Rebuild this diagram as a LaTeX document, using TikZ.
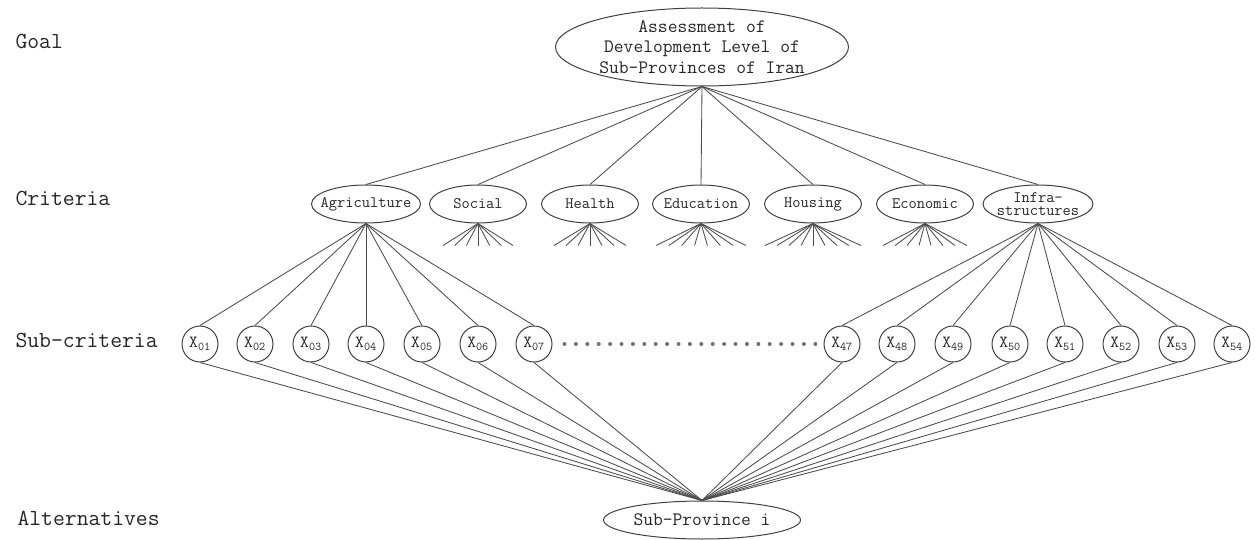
\documentclass[tikz,border=0pt]{standalone}
\usetikzlibrary{shapes.geometric}
\begin{document}
\begin{tikzpicture}[x=1pt,y=-1pt,
  every node/.style={text=black!85},
  ell/.style={ellipse, draw=black!75, line width=1pt, inner sep=0pt},
  crit/.style={ell, minimum width=97pt, minimum height=38pt, align=center,
    inner xsep=-8pt, font=\ttfamily\fontsize{16}{13.5}\selectfont},
  sub/.style={circle, draw=black!75, line width=1pt, minimum size=36pt, inner sep=0pt,
    font=\ttfamily\fontsize{17}{17}\selectfont},
  lvl/.style={anchor=base west, font=\ttfamily\fontsize{23}{23}\selectfont},
  conn/.style={draw=black!70, line width=0.85pt}]
\useasboundingbox (0,0) rectangle (1255,540);

% level labels
\node[lvl] (lgoal) at (12,49) {Goal};
\node[lvl] (lcrit) at (12,206) {Criteria};
\node[lvl] (lsub) at (12,347) {Sub-criteria};
\node[lvl] (lalt) at (14,525) {Alternatives};

% goal
\node[ell, minimum width=293pt, minimum height=78pt, align=center,
  font=\ttfamily\fontsize{19}{20.5}\selectfont] (goal) at (702,47)
  {Assessment of\\Development Level of\\Sub-Provinces of Iran};

% criteria
\node[crit, minimum width=109pt] (agr) at (366,204) {Agriculture};
\node[crit] (soc) at (478,204) {Social};
\node[crit] (hea) at (590,204) {Health};
\node[crit] (edu) at (701,204) {Education};
\node[crit] (hou) at (813,204) {Housing};
\node[crit] (eco) at (925,204) {Economic};
\node[crit, minimum width=110pt] (inf) at (1038,204) {Infra-\\structures};

\foreach \c in {agr,soc,hea,edu,hou,eco,inf}
  \draw[conn] (goal.south) -- (\c.north);

% fans of the middle criteria
\foreach \c/\n/\w in {soc/7/35, hea/7/36, edu/8/45, hou/9/48, eco/8/42} {
  \foreach \i in {1,...,\n} {
    \pgfmathsetmacro{\dx}{-\w+2*\w*(\i-1)/(\n-1)}
    \coordinate (\c-f\i) at ([shift={(\dx pt,-22pt)}]\c.south);
    \draw[conn] (\c.south) -- (\c-f\i);
  }
}

% sub-criteria
\foreach \k/\x in {01/200,02/255,03/311,04/366,05/422,06/478,07/534,
                   47/842,48/897,49/953,50/1010,51/1065,52/1121,53/1177,54/1232}
  \node[sub] (x\k) at (\x,344) {X\textsubscript{\k}};

\foreach \k in {01,02,03,04,05,06,07}
  \draw[conn] (agr.south) -- (x\k.north);
\foreach \k in {47,48,49,50,51,52,53,54}
  \draw[conn] (inf.south) -- (x\k.north);

% dotted gap
\draw[draw=black!55, line width=4pt, line cap=round, dash pattern=on 0pt off 11.4pt,
  shorten <=12pt, shorten >=5pt] (x07.east) -- (x47.west);

% alternative
\node[ell, minimum width=197pt, minimum height=38pt,
  font=\ttfamily\fontsize{19}{19}\selectfont] (alt) at (702,520) {Sub-Province i};

\foreach \k in {01,02,03,04,05,06,07,47,48,49,50,51,52,53,54}
  \draw[conn] (x\k.south) -- (alt.north);
\end{tikzpicture}
\end{document}
